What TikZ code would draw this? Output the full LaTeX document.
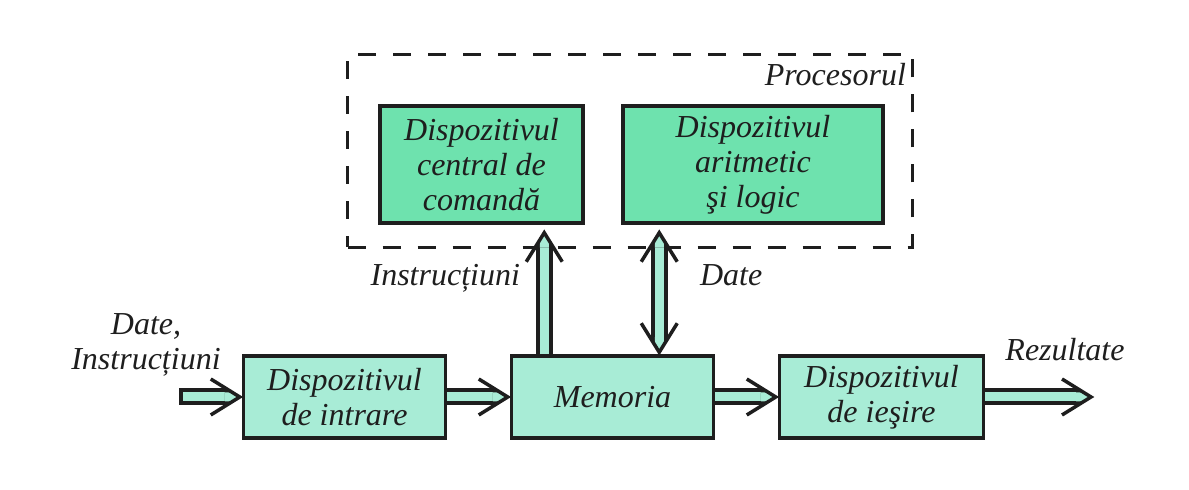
\documentclass[tikz,border=0pt]{standalone}
\usepackage{fontspec}
\setmainfont{Liberation Serif}
\usetikzlibrary{positioning,calc,decorations.markings}
\definecolor{ink}{RGB}{30,30,30}
\definecolor{cpufill}{RGB}{110,226,174}
\definecolor{devfill}{RGB}{168,236,214}

\begin{document}
\begin{tikzpicture}[
                    x=0.5pt, y=0.5pt,
                    every node/.style={
                        font=\fontsize{16}{17.5}\selectfont\itshape,
                        text=ink
                    },
                    device/.style={
                        rectangle,
                        draw=ink,
                        fill=devfill,
                        line width=1.75pt,
                        minimum width=101pt,
                        minimum height=41pt,
                        inner sep=2pt,
                        align=center
                    },
                    cpudevice/.style={
                        device,
                        fill=cpufill,
                        minimum width=101.5pt,
                        minimum height=58.5pt
                    },
                    processor/.style={
                        rectangle,
                        draw=ink,
                        line width=1.5pt,
                        dash pattern=on 9pt off 8.5pt,
                        minimum width=282.5pt,
                        minimum height=96.5pt
                    },
                    bus/.style={
                        draw=devfill,
                        line width=4.5pt,
                        shorten >=7pt,
                        preaction={draw=ink, line width=8.5pt},
                        postaction={decorate, decoration={markings,
                            mark=at position 1 with {\bushead}}}
                    },
                    dbus/.style={
                        bus,
                        shorten <=7pt,
                        postaction={decorate, decoration={markings,
                            mark=at position 0 with {\begin{scope}[xscale=-1]\bushead\end{scope}}}}
                    }
                ]
                \newcommand{\bushead}{
                    \begin{scope}[shorten >=0pt, shorten <=0pt]
                    \fill[ink] (-2,0) -- (-15.7,8.5) -- (-17,8.5) -- (-17,-8.5) -- (-15.7,-8.5) -- cycle;
                    \fill[devfill] (-2,0) -- (-9.3,4.5) -- (-17,4.5) -- (-17,-4.5) -- (-9.3,-4.5) -- cycle;
                    \draw[ink, line width=1.75pt] (-31,18) -- (-2,0) -- (-31,-18);
                    \end{scope}
                }
                \useasboundingbox (0,0) rectangle (1189,490);

                % processor
                \node (proc) [processor] at (630,339) {};
                \node (cdc) [cpudevice] at (481.5,325.5) {Dispozitivul\\ central de\\ comandă};
                \node (alu) [cpudevice, right=18.25pt of cdc, minimum width=130pt] {Dispozitivul\\ aritmetic\\ şi logic};
                \node (procname) [anchor=base east] at (913,404) {Procesorul};

                % lower row
                \node (intrare) [device] at (344.5,93) {Dispozitivul\\ de intrare};
                \node (mem) [device, right=31.25pt of intrare] {Memoria};
                \node (iesire) [device, right=31.25pt of mem, minimum width=102pt] {Dispozitivul\\ de ieşire};

                \coordinate (src) at (181,93);
                \coordinate (dst) at (1093,93);
                \coordinate (ibot) at ($(mem.north west)+(34.5,0)$);
                \coordinate (itop) at ($(ibot |- cdc.south)+(0,-6)$);
                \coordinate (dbot) at ($(mem.north west)+(149.5,0)$);
                \coordinate (dtop) at ($(dbot |- alu.south)+(0,-6)$);

                % labels
                \node (inlabel) [align=center] at (146,145) {Date,\\ Instrucțiuni};
                \node (outlabel) [anchor=base] at (1065,129) {Rezultate};
                \node (instrlabel) [anchor=base east] at (527,204) {Instrucțiuni};
                \node (datelabel) [anchor=base west] at (693,204) {Date};

                % buses
                \draw[bus] (src) -- (intrare);
                \draw[ink, line width=1.75pt] ([yshift=4.25pt]src) -- ([yshift=-4.25pt]src);
                \draw[bus] (intrare) -- (mem);
                \draw[bus] (mem) -- (iesire);
                \draw[bus] (iesire) -- (dst);
                \draw[bus] (ibot) -- (itop);
                \draw[dbus] (dbot) -- (dtop);
            \end{tikzpicture}
\end{document}
